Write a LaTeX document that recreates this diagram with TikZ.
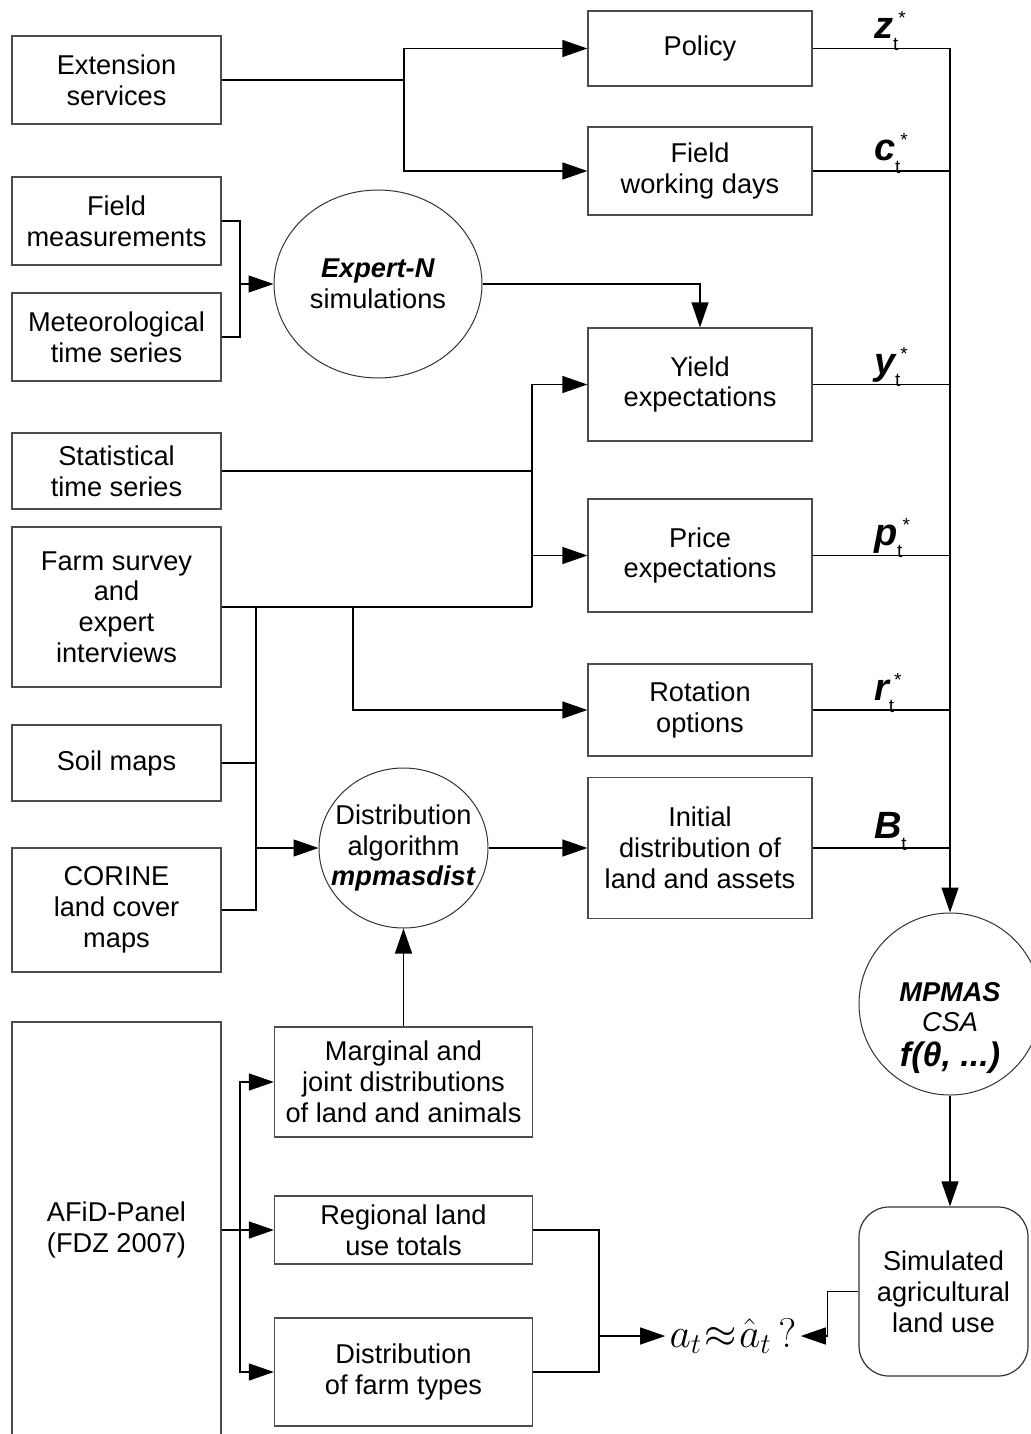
\documentclass[tikz,border=0pt]{standalone}
\usepackage{fontspec}
\setmainfont{Liberation Sans}
\usepackage{tikz}
\usetikzlibrary{shapes.geometric, arrows.meta, positioning, calc}

\newcommand{\boxfont}{\fontsize{13.6}{15.4}\selectfont}
\newcommand{\vlab}[2]{{\fontsize{19}{19}\selectfont\bfseries\itshape #1}{\fontsize{9.5}{9.5}\selectfont\raisebox{-6pt}{t}\raisebox{7pt}{#2}}}

\begin{document}
\begin{tikzpicture}[
  x=0.5pt, y=-0.5pt,
  font=\boxfont,
  box/.style={rectangle, draw=black!70, line width=0.6pt, align=center, inner sep=2pt},
  src/.style={box, minimum width=104.5pt},
  outbox/.style={box, minimum width=112pt},
  data/.style={box, minimum width=129pt},
  circ/.style={ellipse, draw=black!80, line width=0.5pt, align=center, inner sep=0pt},
  line/.style={line width=0.6pt},
  arr/.style={line, -{Triangle[length=12.5pt, width=8.5pt]}},
  varlab/.style={anchor=base west, inner sep=0pt}
]
\useasboundingbox (0,0) rectangle (1030,1434);

% left column: sources
\node[src, minimum height=44pt] (ext) at (116.5,80) {Extension\\services};
\node[src, minimum height=44pt] (fm) at (116.5,221) {Field\\measurements};
\node[src, minimum height=44pt] (met) at (116.5,337) {Meteorological\\time series};
\node[src, minimum height=38pt] (stat) at (116.5,471) {Statistical\\time series};
\node[src, minimum height=80pt] (farm) at (116.5,607) {Farm survey\\and\\expert\\interviews};
\node[src, minimum height=38pt] (soil) at (116.5,763) {Soil maps};
\node[src, minimum height=62pt] (cor) at (116.5,910) {CORINE\\land cover\\maps};
\node[src, minimum height=208pt] (afid) at (116.5,1230) {AFiD-Panel\\(FDZ 2007)};

% models
\node[circ, minimum width=104pt, minimum height=94pt] (expn) at (378,284) {\textbf{\textit{Expert-N}}\\simulations};
\node[circ, minimum width=84.5pt, minimum height=80pt] (dist) at (403.5,848) {};
\node[align=center, inner sep=0pt] (disttxt) at (dist.center) {Distribution\\algorithm\\\textbf{\textit{mpmasdist}}};
\node[circ, circle, minimum size=91pt] (mpmas) at (950,1004) {};
\node[align=center, inner sep=0pt] (mpmastxt) at ([yshift=-12pt]mpmas.center) {\textbf{\textit{MPMAS}}\\\textit{CSA}\\[2pt]{\fontsize{17}{17}\selectfont\bfseries\itshape f(θ, ...)}};

% right column: model inputs
\node[outbox, minimum height=37.5pt] (policy) at (700,48.5) {Policy};
\node[outbox, minimum height=44pt] (fwd) at (700,171) {Field\\working days};
\node[outbox, minimum height=56.5pt] (yield) at (700,384.5) {Yield\\expectations};
\node[outbox, minimum height=56.5pt] (price) at (700,555.5) {Price\\expectations};
\node[outbox, minimum height=46pt] (rot) at (700,710) {Rotation\\options};
\node[outbox, minimum height=70.5pt] (init) at (700,848) {Initial\\distribution of\\land and assets};

% lower middle: AFiD data
\node[data, minimum height=55pt] (marg) at (403.5,1082) {Marginal and\\joint distributions\\of land and animals};
\node[data, minimum height=34pt] (reg) at (403.5,1230) {Regional land\\use totals};
\node[data, minimum height=54pt] (dft) at (403.5,1372) {Distribution\\of farm types};

\node[box, rounded corners=15pt, draw=black!80, minimum width=84.5pt, minimum height=84.5pt] (sim) at (943.5,1291.5) {Simulated\\agricultural\\land use};
\node[font=\fontsize{20}{24}\selectfont, inner sep=2pt] (cmp) at (733,1336) {$a_t\mskip1mu{\approx}\mskip1mu\hat{a}_t\,?$};

% junctions
\coordinate (j1) at (404,80);
\coordinate (j2) at (240,284);
\coordinate (j3) at (532,607);
\coordinate (j4) at (353,607);
\coordinate (j5) at (256,607);
\coordinate (j6) at (240,1230);
\coordinate (j7) at (599,1336);
\coordinate (bus) at (950,48.5);

% connectors
\draw[line] (ext.east) -- (j1);
\draw[arr] (j1) |- (policy.west);
\draw[arr] (j1) |- (fwd.west);
\draw[line] (fm.east) -| (j2);
\draw[line] (met.east) -| (j2);
\draw[arr] (j2) -- (expn.west);
\draw[arr] (expn.east) -| (yield.north);
\draw[line] (farm.east) -- (j3);
\draw[line] (stat.east) -| (j3);
\draw[arr] (j3) |- (yield.west);
\draw[arr] (j3) |- (price.west);
\draw[arr] (j4) |- (rot.west);
\draw[line] (soil.east) -| (j5);
\draw[line] (cor.east) -| (j5);
\draw[arr] (j5 |- dist.west) -- (dist.west);
\draw[arr] (dist.east) -- (init.west);
\draw[arr] (marg.north) -- (dist.south);
\draw[line] (afid.east) -- (j6);
\foreach \n in {marg,reg,dft}
  \draw[arr] (j6) |- (\n.west);
\draw[line] (reg.east) -| (j7);
\draw[line] (dft.east) -| (j7);
\draw[arr] (j7) -- (cmp.west);
\draw[line] (policy.east) -- (bus);
\foreach \n in {fwd,yield,price,rot,init}
  \draw[line] (\n.east) -- (\n.east -| bus);
\draw[arr] (bus) -- (mpmas.north);
\draw[arr] (mpmas.south) -- (mpmas.south |- sim.north);
\draw[arr] (sim.west) -- ++(-31,0) |- (cmp.east);

% variable labels
\foreach \n/\v in {policy/z, fwd/c, yield/y, price/p, rot/r}
  \node[varlab] (lab\n) at ([xshift=30.5pt, yshift=5pt]\n.east) {\vlab{\v}{*}};
\node[varlab] (labinit) at ([xshift=30.5pt, yshift=5pt]init.east) {\vlab{B}{}};
\end{tikzpicture}
\end{document}
